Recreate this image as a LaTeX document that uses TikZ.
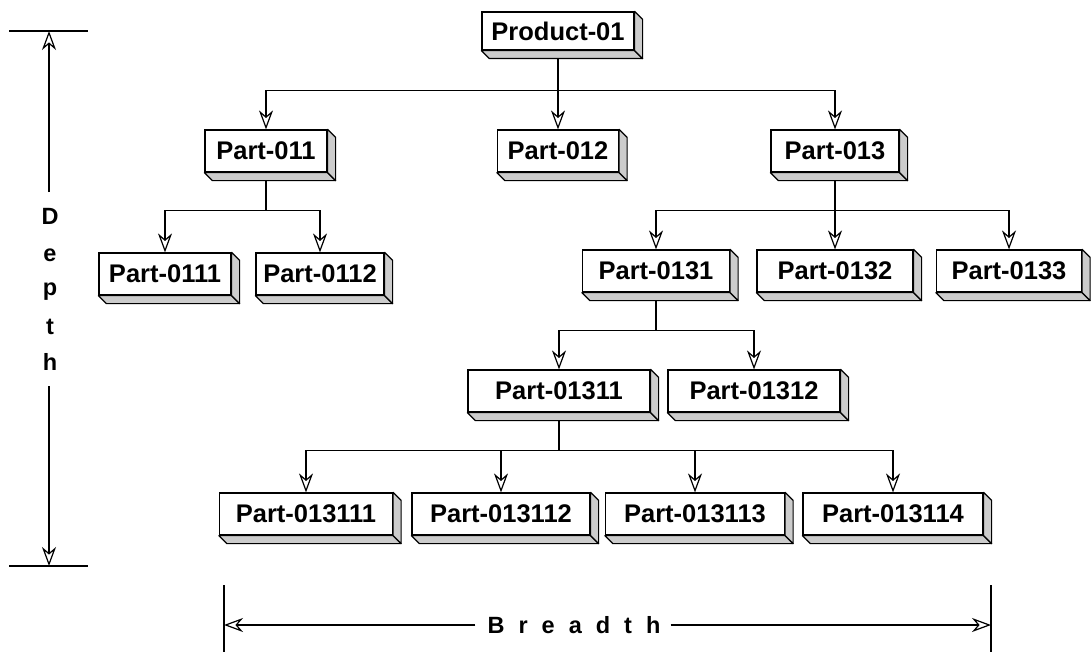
\documentclass[tikz,border=0pt]{standalone}
\usepackage{fontspec}
\setmainfont{Liberation Sans}
\usetikzlibrary{arrows.meta,calc}
\begin{document}
\begin{tikzpicture}[x=1pt,y=-1pt,
  part/.style={draw, line width=1.2pt, fill=white, inner sep=0pt, minimum height=42pt,
    font=\fontsize{25.5}{29}\selectfont\bfseries},
  link/.style={line width=1.2pt},
  arr/.style={link, -{Stealth[open, length=19pt, width=14pt, inset=6pt, line width=1.2pt]}},
  face/.style={draw, line width=1.2pt, fill=gray!40, line join=round},
  axislabel/.style={inner sep=1pt, font=\fontsize{23.5}{27}\selectfont\bfseries}]
\useasboundingbox (0,0) rectangle (1091,658);

% front faces of the part boxes
\node[part, minimum width=152pt, minimum height=38pt] (prod) at (558,31) {Product-01};
\node[part, minimum width=122pt] (p011)  at (266,151) {Part-011};
\node[part, minimum width=121pt] (p012)  at (558,151) {Part-012};
\node[part, minimum width=128pt] (p013)  at (835,151) {Part-013};
\node[part, minimum width=132pt] (p0111) at (165,274) {Part-0111};
\node[part, minimum width=128pt] (p0112) at (320,274) {Part-0112};
\node[part, minimum width=147pt] (p0131) at (656,271) {Part-0131};
\node[part, minimum width=156pt] (p0132) at (835,271) {Part-0132};
\node[part, minimum width=145pt] (p0133) at (1009,271) {Part-0133};
\node[part, minimum width=182pt] (p01311) at (559,391) {Part-01311};
\node[part, minimum width=172pt] (p01312) at (754,391) {Part-01312};
\node[part, minimum width=173pt] (p013111) at (306,514) {Part-013111};
\node[part, minimum width=178pt] (p013112) at (501,514) {Part-013112};
\node[part, minimum width=179pt] (p013113) at (695,514) {Part-013113};
\node[part, minimum width=180pt] (p013114) at (893,514) {Part-013114};

% tree connectors
\foreach \c in {p011,p012,p013}
  \draw[arr] (prod.south) -- ++(0,40) -| (\c.north);
\foreach \c in {p0111,p0112}
  \draw[arr] (p011.south) -- ++(0,38) -| (\c.north);
\foreach \c in {p0131,p0132,p0133}
  \draw[arr] (p013.south) -- ++(0,38) -| (\c.north);
\foreach \c in {p01311,p01312}
  \draw[arr] (p0131.south) -- ++(0,38) -| (\c.north);
\foreach \c in {p013111,p013112,p013113,p013114}
  \draw[arr] (p01311.south) -- ++(0,38) -| (\c.north);

% extruded bottom and side faces
\foreach \n in {prod,p011,p012,p013,p0111,p0112,p0131,p0132,p0133,
                p01311,p01312,p013111,p013112,p013113,p013114}{
  \draw[face] (\n.south west) -- (\n.south east) -- ($(\n.south east)+(8,8)$)
    -- ($(\n.south west)+(8,8)$) -- cycle;
  \draw[face] (\n.north east) -- ($(\n.north east)+(8,8)$)
    -- ($(\n.south east)+(8,8)$) -- (\n.south east) -- cycle;
}

% depth dimension
\coordinate (dtl) at (9,31);   \coordinate (dtr) at (88,31);
\coordinate (dbl) at (9,566);  \coordinate (dbr) at (88,566);
\coordinate (dtop) at (49,31); \coordinate (dbot) at (49,566);
\coordinate (dgap1) at (49,192); \coordinate (dgap2) at (49,386);
\draw[link] (dtl) -- (dtr);
\draw[link] (dbl) -- (dbr);
\draw[arr] (dgap1) -- (dtop);
\draw[arr] (dgap2) -- (dbot);
\node[axislabel] (dD) at (50,216) {D};
\node[axislabel] (de) at (50,255) {e};
\node[axislabel] (dp) at (50,292) {p};
\node[axislabel] (dt) at (50,327) {t};
\node[axislabel] (dh) at (50,362) {h};

% breadth dimension
\coordinate (bl1) at (224,585); \coordinate (bl2) at (224,652);
\coordinate (br1) at (991,585); \coordinate (br2) at (991,652);
\coordinate (bleft) at (224,625); \coordinate (bright) at (991,625);
\draw[link] (bl1) -- (bl2);
\draw[link] (br1) -- (br2);
\node[axislabel, inner sep=0pt] (btext) at (574,625)
  {B\hspace{14pt}r\hspace{14pt}e\hspace{14pt}a\hspace{14pt}d\hspace{14pt}t\hspace{14pt}h};
\draw[arr] ($(btext.west)+(-12,0)$) -- (bleft);
\draw[arr] ($(btext.east)+(10,0)$) -- (bright);
\end{tikzpicture}
\end{document}
